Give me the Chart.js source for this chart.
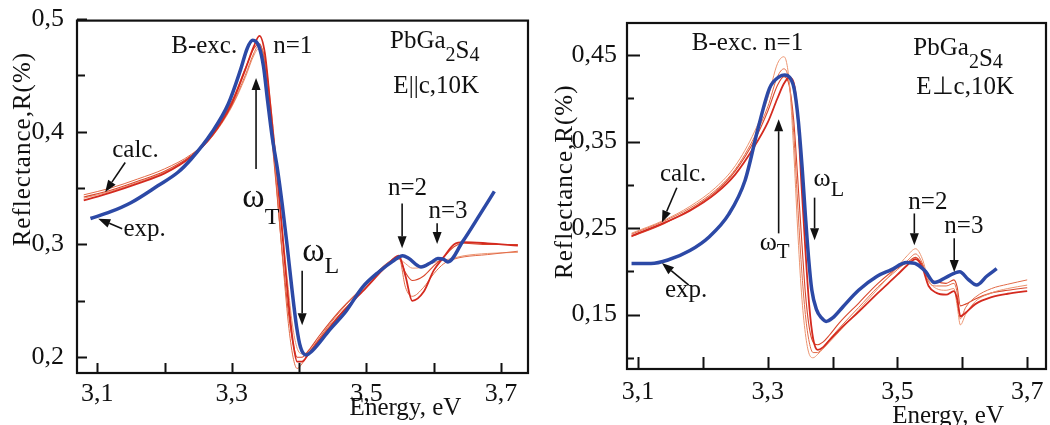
<!DOCTYPE html>
<html>
<head>
<meta charset="utf-8">
<script src="https://cdn.jsdelivr.net/npm/chart.js@4.4.1/dist/chart.umd.min.js"></script>
<style>
  body { margin: 0; background: #fff; width: 1050px; height: 425px; overflow: hidden; position: relative; }
  canvas { position: absolute; top: 0; }
  #parallel { left: 0; }
  #perp { left: 535px; }
</style>
</head>
<body>
<canvas id="parallel" width="535" height="425"></canvas>
<canvas id="perp" width="515" height="425"></canvas>
<script>
// ---- E || c ----
var expEnergyL = [3.09, 3.12, 3.15, 3.19, 3.22, 3.24, 3.27, 3.295, 3.313, 3.323, 3.331, 3.34, 3.347, 3.353, 3.36, 3.368, 3.375, 3.382, 3.389, 3.396, 3.402, 3.41, 3.42, 3.445, 3.47, 3.494, 3.519, 3.539, 3.554, 3.562, 3.581, 3.596, 3.606, 3.614, 3.621, 3.643, 3.668, 3.69];
var expReflL = [0.323, 0.329, 0.337, 0.352, 0.364, 0.376, 0.399, 0.425, 0.455, 0.474, 0.481, 0.476, 0.458, 0.428, 0.395, 0.366, 0.335, 0.300, 0.262, 0.228, 0.209, 0.202, 0.206, 0.224, 0.241, 0.262, 0.276, 0.285, 0.290, 0.288, 0.280, 0.284, 0.2875, 0.287, 0.2845, 0.3026, 0.326, 0.347];

var calcEnergyL = [3.08, 3.12, 3.16, 3.20, 3.24, 3.27, 3.30, 3.32, 3.333, 3.341, 3.349, 3.357, 3.366, 3.375, 3.384, 3.391, 3.397, 3.404, 3.414, 3.43, 3.46, 3.50, 3.53, 3.548, 3.558, 3.568, 3.585, 3.60, 3.615, 3.63, 3.645, 3.68, 3.725];
var calcL1 = [0.339, 0.346, 0.354, 0.363, 0.378, 0.396, 0.425, 0.455, 0.476, 0.485, 0.470, 0.425, 0.370, 0.310, 0.250, 0.213, 0.196, 0.196, 0.203, 0.215, 0.237, 0.262, 0.281, 0.290, 0.272, 0.250, 0.258, 0.277, 0.289, 0.300, 0.302, 0.301, 0.299];
var calcL2 = [0.344, 0.350, 0.358, 0.367, 0.380, 0.396, 0.423, 0.450, 0.470, 0.477, 0.462, 0.415, 0.355, 0.290, 0.230, 0.200, 0.190, 0.194, 0.203, 0.217, 0.240, 0.265, 0.283, 0.289, 0.262, 0.254, 0.262, 0.274, 0.283, 0.287, 0.289, 0.291, 0.294];
var calcL3 = [0.342, 0.348, 0.356, 0.365, 0.379, 0.397, 0.427, 0.456, 0.474, 0.478, 0.460, 0.410, 0.352, 0.292, 0.240, 0.212, 0.200, 0.200, 0.206, 0.219, 0.241, 0.265, 0.283, 0.288, 0.275, 0.268, 0.272, 0.281, 0.289, 0.298, 0.301, 0.300, 0.300];
var calcL4 = [0.341, 0.347, 0.355, 0.364, 0.378, 0.395, 0.422, 0.448, 0.468, 0.474, 0.465, 0.428, 0.375, 0.315, 0.260, 0.225, 0.208, 0.203, 0.205, 0.217, 0.238, 0.263, 0.281, 0.287, 0.283, 0.279, 0.280, 0.284, 0.286, 0.288, 0.290, 0.292, 0.293];

var xTicksL = [3.1, 3.2, 3.3, 3.4, 3.5, 3.6, 3.7];
var xLabelsL = ['3,1', '', '3,3', '', '3,5', '', '3,7'];
var yTicksL = [0.2, 0.25, 0.3, 0.35, 0.4, 0.45, 0.5];
var yLabelsL = ['0,2', '', '0,3', '', '0,4', '', '0,5'];

// ---- E ⊥ c ----
var expEnergyR = [3.09, 3.12, 3.146, 3.18, 3.21, 3.24, 3.265, 3.285, 3.303, 3.318, 3.326, 3.334, 3.341, 3.347, 3.353, 3.358, 3.363, 3.368, 3.375, 3.383, 3.39, 3.40, 3.416, 3.44, 3.468, 3.49, 3.514, 3.53, 3.543, 3.557, 3.575, 3.596, 3.609, 3.622, 3.638, 3.653];
var expReflR = [0.209, 0.209, 0.213, 0.224, 0.240, 0.266, 0.305, 0.365, 0.412, 0.425, 0.427, 0.424, 0.410, 0.375, 0.320, 0.265, 0.215, 0.178, 0.156, 0.146, 0.142, 0.146, 0.159, 0.178, 0.194, 0.2016, 0.210, 0.208, 0.200, 0.187, 0.193, 0.1995, 0.1906, 0.184, 0.1945, 0.203];

var calcEnergyR = [3.09, 3.14, 3.18, 3.22, 3.25, 3.28, 3.30, 3.315, 3.325, 3.333, 3.34, 3.346, 3.352, 3.358, 3.364, 3.37, 3.377, 3.385, 3.395, 3.41, 3.44, 3.47, 3.50, 3.515, 3.528, 3.538, 3.548, 3.56, 3.575, 3.587, 3.592, 3.597, 3.605, 3.62, 3.645, 3.67, 3.70];
var calcR1 = [0.241, 0.256, 0.270, 0.290, 0.312, 0.345, 0.372, 0.400, 0.417, 0.424, 0.418, 0.380, 0.300, 0.225, 0.160, 0.122, 0.109, 0.112, 0.120, 0.132, 0.153, 0.175, 0.196, 0.207, 0.214, 0.205, 0.183, 0.175, 0.173, 0.177, 0.168, 0.148, 0.152, 0.162, 0.170, 0.174, 0.177];
var calcR2 = [0.244, 0.259, 0.275, 0.297, 0.322, 0.362, 0.400, 0.440, 0.448, 0.420, 0.340, 0.250, 0.175, 0.128, 0.104, 0.100, 0.104, 0.110, 0.118, 0.130, 0.155, 0.180, 0.205, 0.218, 0.226, 0.215, 0.190, 0.180, 0.178, 0.180, 0.160, 0.138, 0.150, 0.165, 0.175, 0.180, 0.184];
var calcR3 = [0.243, 0.258, 0.273, 0.294, 0.318, 0.356, 0.390, 0.425, 0.434, 0.418, 0.360, 0.280, 0.205, 0.150, 0.118, 0.106, 0.106, 0.112, 0.121, 0.134, 0.158, 0.182, 0.202, 0.212, 0.220, 0.210, 0.188, 0.183, 0.183, 0.186, 0.175, 0.145, 0.158, 0.170, 0.180, 0.185, 0.190];
var calcR4 = [0.240, 0.255, 0.271, 0.292, 0.316, 0.352, 0.385, 0.415, 0.425, 0.415, 0.375, 0.310, 0.240, 0.175, 0.135, 0.118, 0.115, 0.118, 0.126, 0.140, 0.163, 0.186, 0.204, 0.210, 0.216, 0.208, 0.192, 0.188, 0.186, 0.190, 0.182, 0.160, 0.162, 0.168, 0.175, 0.178, 0.181];

var xTicksR = [3.1, 3.2, 3.3, 3.4, 3.5, 3.6, 3.7];
var xLabelsR = ['3,1', '', '3,3', '', '3,5', '', '3,7'];
var yTicksR = [0.1, 0.15, 0.2, 0.25, 0.3, 0.35, 0.4, 0.45];
var yLabelsR = ['', '0,15', '', '0,25', '', '0,35', '', '0,45'];

var serif = '"Liberation Serif", "Times New Roman", serif';

function series(e, r) {
  return e.map(function (v, i) { return { x: v, y: r[i] }; });
}

function expSet(e, r) {
  return { data: series(e, r), borderColor: '#2c49a6', borderWidth: 3.5 };
}
function calcSet(e, r, color, w) {
  return { data: series(e, r), borderColor: color, borderWidth: w };
}

// frame, inward ticks, labels and arrows on top of the plot
var panelDecor = {
  id: 'panelDecor',
  afterDraw: function (chart, args, o) {
    var ctx = chart.ctx, a = chart.chartArea, xs = chart.scales.x, ys = chart.scales.y;
    ctx.save();
    ctx.strokeStyle = '#111';
    ctx.fillStyle = '#111';
    ctx.lineWidth = 2.2;
    ctx.strokeRect(a.left, a.top, a.right - a.left, a.bottom - a.top);

    ctx.lineWidth = 2;
    ctx.beginPath();
    xs.ticks.forEach(function (t) {
      var px = Math.round(xs.getPixelForValue(t.value)) + 0.5;
      ctx.moveTo(px, a.bottom);
      ctx.lineTo(px, a.bottom - o.xTick);
    });
    ys.ticks.forEach(function (t) {
      var py = Math.round(ys.getPixelForValue(t.value)) + 0.5;
      ctx.moveTo(a.left, py);
      ctx.lineTo(a.left + (t.label ? o.yMajor : o.yMinor), py);
    });
    ctx.stroke();

    // arrows
    o.arrows.forEach(function (ar) {
      var x1 = xs.getPixelForValue(ar[0]), y1 = ys.getPixelForValue(ar[1]);
      var x2 = xs.getPixelForValue(ar[2]), y2 = ys.getPixelForValue(ar[3]);
      var ang = Math.atan2(y2 - y1, x2 - x1), hl = 12, hw = 4.5;
      var bx = x2 - hl * Math.cos(ang), by = y2 - hl * Math.sin(ang);
      ctx.lineWidth = 1.6;
      ctx.beginPath();
      ctx.moveTo(x1, y1);
      ctx.lineTo(bx, by);
      ctx.stroke();
      ctx.beginPath();
      ctx.moveTo(x2, y2);
      ctx.lineTo(bx + hw * Math.sin(ang), by - hw * Math.cos(ang));
      ctx.lineTo(bx - hw * Math.sin(ang), by + hw * Math.cos(ang));
      ctx.closePath();
      ctx.fill();
    });

    // text labels made of runs: [text, size, baseline shift]
    ctx.textBaseline = 'alphabetic';
    ctx.textAlign = 'left';
    o.notes.forEach(function (n) {
      var px = xs.getPixelForValue(n.x), py = ys.getPixelForValue(n.y);
      if (n.right) {
        var w = 0;
        n.runs.forEach(function (r) { ctx.font = r[1] + 'px ' + serif; w += ctx.measureText(r[0]).width; });
        px -= w;
      }
      n.runs.forEach(function (r) {
        ctx.font = r[1] + 'px ' + serif;
        ctx.fillText(r[0], px, py + r[2]);
        px += ctx.measureText(r[0]).width;
      });
    });

    // axis titles
    ctx.font = o.titleSize + 'px ' + serif;
    ctx.textAlign = 'center';
    ctx.fillText(o.xTitle, xs.getPixelForValue(o.xTitleAt), a.bottom + o.xTitleDy);
    ctx.save();
    ctx.translate(o.yTitleX, ys.getPixelForValue(o.yTitleAt));
    ctx.rotate(-Math.PI / 2);
    ctx.textBaseline = 'middle';
    ctx.letterSpacing = '1px';
    ctx.fillText(o.yTitle, 0, 0);
    ctx.restore();
    ctx.restore();
  }
};

function makeChart(id, p) {
  return new Chart(document.getElementById(id), {
    type: 'line',
    data: { datasets: p.datasets },
    options: {
      responsive: false,
      animation: false,
      layout: { padding: p.padding },
      elements: { point: { radius: 0 }, line: { cubicInterpolationMode: 'monotone' } },
      plugins: { legend: { display: false }, tooltip: { enabled: false }, panelDecor: p.decor },
      scales: {
        x: {
          type: 'linear', min: p.xMin, max: p.xMax,
          grid: { display: false }, border: { display: false },
          afterBuildTicks: function (s) { s.ticks = p.xTicks.map(function (v) { return { value: v }; }); },
          afterFit: function (s) { s.height = p.xHeight; },
          ticks: {
            autoSkip: false, maxRotation: 0, padding: p.xPad, color: '#111',
            font: { family: serif, size: 26 },
            callback: function (v, i) { return p.xLabels[i]; }
          }
        },
        y: {
          type: 'linear', min: p.yMin, max: p.yMax,
          grid: { display: false }, border: { display: false },
          afterBuildTicks: function (s) { s.ticks = p.yTicks.map(function (v) { return { value: v }; }); },
          afterFit: function (s) { s.width = p.yWidth; },
          ticks: {
            autoSkip: false, padding: p.yPad, color: '#111',
            font: { family: serif, size: 26 },
            callback: function (v, i) { return p.yLabels[i]; }
          }
        }
      }
    },
    plugins: [panelDecor]
  });
}

makeChart('parallel', {
  datasets: [
    expSet(expEnergyL, expReflL),
    calcSet(calcEnergyL, calcL1, '#d42a1f', 1.8),
    calcSet(calcEnergyL, calcL2, '#e26b48', 1.0),
    calcSet(calcEnergyL, calcL3, '#d9472c', 1.1),
    calcSet(calcEnergyL, calcL4, '#ec9470', 1.0)
  ],
  padding: { left: 0, top: 17, right: 7, bottom: 0 },
  xMin: 3.07, xMax: 3.74, yMin: 0.186, yMax: 0.4985,
  xTicks: xTicksL, xLabels: xLabelsL, yTicks: yTicksL, yLabels: yLabelsL,
  xHeight: 52, yWidth: 77, xPad: -2, yPad: 5,
  decor: {
    xTick: 10, yMajor: 10, yMinor: 8,
    titleSize: 25, xTitle: 'Energy, eV', xTitleAt: 3.558, xTitleDy: 42,
    yTitle: 'Reflectance,R(%)', yTitleAt: 0.3845, yTitleX: 23,
    notes: [
      { x: 3.308, y: 0.4696, right: true, runs: [['B-exc.', 25, 0]] },
      { x: 3.3615, y: 0.4696, runs: [['n=1', 25, 0]] },
      { x: 3.535, y: 0.4739, runs: [['PbGa', 25, 0], ['2', 20, 13], ['S', 25, 10], ['4', 20, 13]] },
      { x: 3.540, y: 0.4345, runs: [['E||c,10K', 25, 0]] },
      { x: 3.1223, y: 0.3775, runs: [['calc.', 25, 0]] },
      { x: 3.139, y: 0.3073, runs: [['exp.', 25, 0]] },
      { x: 3.3155, y: 0.3336, runs: [['\u03c9', 34, 0], ['T', 24, 17]] },
      { x: 3.4046, y: 0.2853, runs: [['\u03c9', 34, 0], ['L', 24, 12]] },
      { x: 3.532, y: 0.3441, runs: [['n=2', 25, 0]] },
      { x: 3.592, y: 0.3231, runs: [['n=3', 25, 0]] }
    ],
    arrows: [
      [3.1416, 0.3727, 3.1119, 0.3464],
      [3.1371, 0.3140, 3.1015, 0.3228],
      [3.336, 0.367, 3.336, 0.4476],
      [3.4045, 0.2766, 3.4045, 0.2284],
      [3.553, 0.3362, 3.553, 0.2967],
      [3.605, 0.3187, 3.605, 0.3003]
    ]
  }
});

makeChart('perp', {
  datasets: [
    expSet(expEnergyR, expReflR),
    calcSet(calcEnergyR, calcR1, '#d42a1f', 1.8),
    calcSet(calcEnergyR, calcR2, '#ec9470', 1.0),
    calcSet(calcEnergyR, calcR3, '#e26b48', 1.0),
    calcSet(calcEnergyR, calcR4, '#d9472c', 1.1)
  ],
  padding: { left: 0, top: 23, right: 4, bottom: 0 },
  xMin: 3.083, xMax: 3.729, yMin: 0.087, yMax: 0.487,
  xTicks: xTicksR, xLabels: xLabelsR, yTicks: yTicksR, yLabels: yLabelsR,
  xHeight: 56, yWidth: 92, xPad: 0, yPad: 2,
  decor: {
    xTick: 12, yMajor: 13, yMinor: 7,
    titleSize: 25, xTitle: 'Energy, eV', xTitleAt: 3.578, xTitleDy: 54,
    yTitle: 'Reflectance,R(%)', yTitleAt: 0.3035, yTitleX: 30,
    notes: [
      { x: 3.183, y: 0.4562, runs: [['B-exc. n=1', 25, 0]] },
      { x: 3.5245, y: 0.4505, runs: [['PbGa', 25, 0], ['2', 20, 13], ['S', 25, 11], ['4', 20, 13]] },
      { x: 3.529, y: 0.4045, runs: [['E\u22a5c,10K', 25, 0]] },
      { x: 3.1337, y: 0.3047, runs: [['calc.', 25, 0]] },
      { x: 3.1414, y: 0.1703, runs: [['exp.', 25, 0]] },
      { x: 3.2875, y: 0.2243, runs: [['\u03c9', 26, 0], ['T', 21, 8]] },
      { x: 3.3706, y: 0.2989, runs: [['\u03c9', 26, 0], ['L', 22, 10]] },
      { x: 3.5168, y: 0.2725, runs: [['n=2', 25, 0]] },
      { x: 3.5722, y: 0.2438, runs: [['n=3', 25, 0]] }
    ],
    arrows: [
      [3.1598, 0.2966, 3.1368, 0.2564],
      [3.1783, 0.1841, 3.1368, 0.2094],
      [3.3168, 0.2438, 3.3168, 0.3758],
      [3.3722, 0.2851, 3.3722, 0.2358],
      [3.526, 0.2668, 3.526, 0.230],
      [3.5875, 0.2381, 3.5875, 0.199]
    ]
  }
});
</script>
</body>
</html>
